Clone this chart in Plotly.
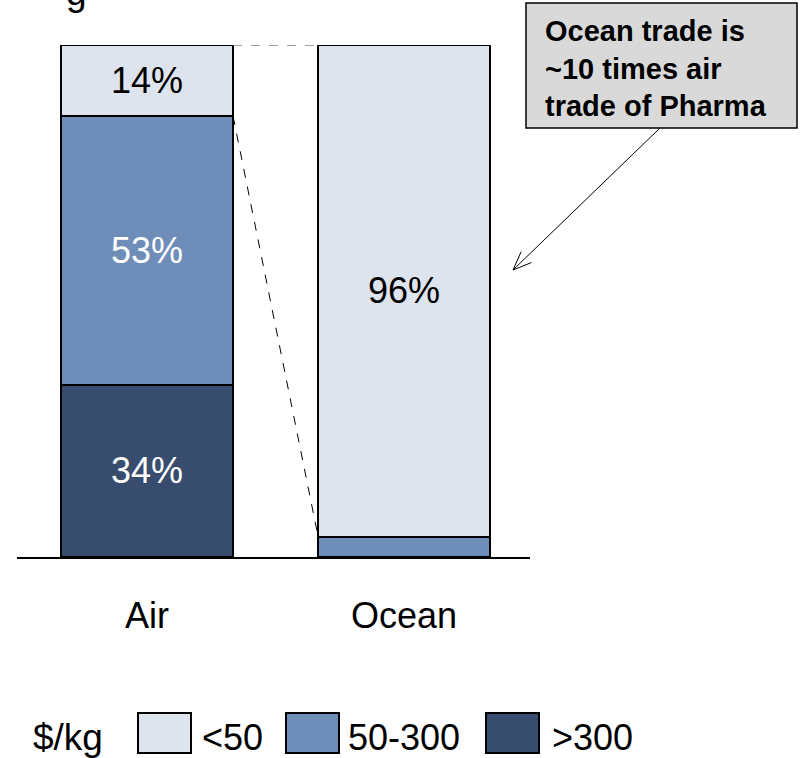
import math
import plotly.graph_objects as go

# Share of pharma trade by value band ($/kg)
modes = ["Air", "Ocean"]
bands = ["<50", "50-300", ">300"]
share_lt50 = [14, 96]
share_50_300 = [53, 4]
share_gt300 = [34, 0]
callout_text = "Ocean trade is<br>~10 times air<br>trade of Pharma"
legend_title = "$/kg"

colors = {"<50": "#DEE4EE", "50-300": "#6E8DB9", ">300": "#384D6D"}
label_colors = {"<50": "black", "50-300": "white", ">300": "white"}

FONT = "Arial, Liberation Sans, sans-serif"
W, H = 800, 758
ML, MR, MT, MB = 17, 270, 45, 201
PW, PH = W - ML - MR, H - MT - MB
BAR_W = 0.669


def px(x):
    return (x - ML) / PW


def py(y):
    return (H - MB - y) / PH


fig = go.Figure()
series = [(">300", share_gt300), ("50-300", share_50_300), ("<50", share_lt50)]
for name, vals in series:
    fig.add_trace(go.Bar(
        x=modes, y=vals, name=name, width=BAR_W,
        marker=dict(color=colors[name], line=dict(color="black", width=2)),
        text=[f"{v}%" if v >= 10 else "" for v in vals],
        textposition="inside", insidetextanchor="middle",
        textfont=dict(family=FONT, size=36, color=label_colors[name]),
        textangle=0, showlegend=False, hoverinfo="skip",
    ))

# Connector lines between the two stacks (normalised to 100%)
air_total = share_gt300[0] + share_50_300[0] + share_lt50[0]
air_upper = (share_gt300[0] + share_50_300[0]) / air_total * 100
ocean_total = share_gt300[1] + share_50_300[1] + share_lt50[1]
ocean_lower = (share_gt300[1] + share_50_300[1]) / ocean_total * 100
x_left, x_right = 0 + BAR_W / 2, 1 - BAR_W / 2
shapes = [
    dict(type="line", xref="x", yref="y", x0=x_left, x1=x_right, y0=100, y1=100,
         line=dict(color="#808080", width=1.5, dash="dash")),
    dict(type="line", xref="x", yref="y", x0=x_left, x1=x_right, y0=air_upper, y1=ocean_lower,
         line=dict(color="black", width=1, dash="dash")),
]

# Callout box and arrow
shapes.append(dict(type="rect", xref="paper", yref="paper",
                   x0=px(526), x1=px(797), y0=py(128), y1=py(3),
                   fillcolor="#D9D9D9", line=dict(color="black", width=1.5), layer="above"))
sx, sy, tx, ty = 660, 128, 513, 270
shapes.append(dict(type="line", xref="paper", yref="paper",
                   x0=px(sx), y0=py(sy), x1=px(tx), y1=py(ty),
                   line=dict(color="black", width=1)))
dx, dy = sx - tx, sy - ty
norm = math.hypot(dx, dy)
ux, uy = dx / norm, dy / norm
for ang in (math.radians(22), math.radians(-22)):
    ax = ux * math.cos(ang) - uy * math.sin(ang)
    ay = ux * math.sin(ang) + uy * math.cos(ang)
    shapes.append(dict(type="line", xref="paper", yref="paper",
                       x0=px(tx), y0=py(ty), x1=px(tx + 20 * ax), y1=py(ty + 20 * ay),
                       line=dict(color="black", width=1)))

annotations = [
    dict(xref="paper", yref="paper", x=px(543), y=py(68), text=f"<b>{callout_text}</b>",
         showarrow=False, xanchor="left", yanchor="middle", align="left",
         font=dict(family=FONT, size=29, color="black")),
    dict(xref="paper", yref="paper", x=px(31), y=py(737), text=legend_title,
         showarrow=False, xanchor="left", yanchor="middle",
         font=dict(family=FONT, size=37, color="black")),
    # descender of the heading line above the chart
    dict(xref="paper", yref="paper", x=px(76), y=py(15), text="g",
         showarrow=False, xanchor="center", yanchor="bottom",
         font=dict(family=FONT, size=37, color="black")),
]

# Legend swatches
legend_pos = [(138, 200), (286, 346), (486, 550)]
for name, (sx0, tx0) in zip(bands, legend_pos):
    shapes.append(dict(type="rect", xref="paper", yref="paper",
                       x0=px(sx0), x1=px(sx0 + 53), y0=py(753), y1=py(713),
                       fillcolor=colors[name], line=dict(color="black", width=2)))
    annotations.append(dict(xref="paper", yref="paper", x=px(tx0), y=py(737), text=name,
                            showarrow=False, xanchor="left", yanchor="middle",
                            font=dict(family=FONT, size=36, color="black")))

fig.update_layout(
    width=W, height=H, barmode="stack", barnorm="percent",
    margin=dict(l=ML, r=MR, t=MT, b=MB),
    plot_bgcolor="white", paper_bgcolor="white",
    shapes=shapes, annotations=annotations,
    font=dict(family=FONT, color="black"),
    xaxis=dict(range=[-0.506, 1.490], showline=True, linecolor="black", linewidth=2,
               ticks="", ticklabelstandoff=26, tickfont=dict(family=FONT, size=36, color="black"),
               showgrid=False, zeroline=False, fixedrange=True),
    yaxis=dict(range=[0, 100], visible=False, showgrid=False, zeroline=False),
)

fig.write_html("out.html")
